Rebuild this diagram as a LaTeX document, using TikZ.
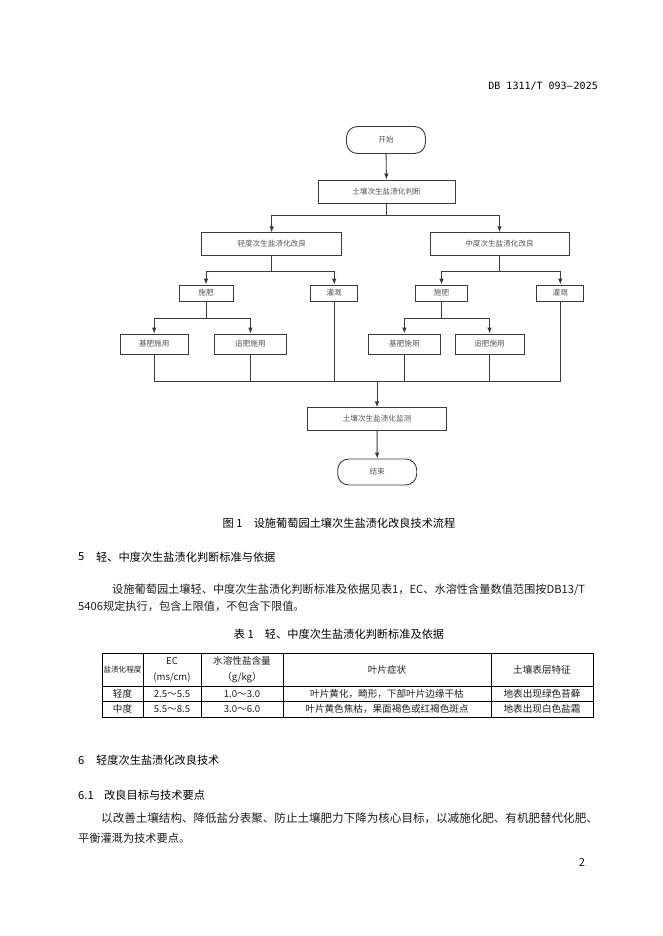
\documentclass[tikz,border=0pt]{standalone}
\usepackage{fontspec}
\setmainfont{Noto Sans CJK SC}
\newfontfamily\monofnt{DejaVu Sans Mono}
\usetikzlibrary{arrows.meta,calc}
\definecolor{boxline}{HTML}{3A3A3A}
\definecolor{boxtext}{HTML}{555555}
\definecolor{bodytext}{HTML}{1E1E1E}
\newcommand{\fbx}{\fontsize{7.6}{9}\selectfont}
\newcommand{\fbody}{\fontsize{11.2}{13}\selectfont}
\newcommand{\ftab}{\fontsize{9.6}{11}\selectfont}
\tikzset{
  fbox/.style={draw=boxline, line width=0.9pt, text=boxtext, font=\fbx, inner sep=0pt, rectangle},
  term/.style={fbox, rounded corners=11pt},
  arr/.style={draw=boxline, line width=0.9pt, -{Latex[length=6pt,width=4.6pt]}},
  ln/.style={draw=boxline, line width=0.9pt},
  body/.style={font=\fbody, text=bodytext, inner sep=0pt},
  head/.style={font=\fbody, text=black, inner sep=0pt},
  tab/.style={font=\ftab, text=bodytext, inner sep=0pt},
  tline/.style={draw=black, line width=0.8pt},
}
\begin{document}
\begin{tikzpicture}[x=1pt,y=-1pt]
\useasboundingbox[fill=white] (0,0) rectangle (662,936);

% header
\node[anchor=east, inner sep=0pt, font=\monofnt\fontsize{10}{12}\selectfont] (hdr) at (598,86) {DB 1311/T 093\textemdash\kern1pt 2025};

% flowchart
\node[term, minimum width=79pt, minimum height=27pt] (start) at (386,140) {开始};
\node[fbox, minimum width=137pt, minimum height=23pt] (judge) at (386.5,191.5) {土壤次生盐渍化判断};
\node[fbox, minimum width=140pt, minimum height=22.5pt] (light) at (271.7,244) {轻度次生盐渍化改良};
\node[fbox, minimum width=139pt, minimum height=22.5pt] (mod) at (499.5,244) {中度次生盐渍化改良};
\node[fbox, minimum width=54pt, minimum height=16pt] (fertL) at (206,293) {施肥};
\node[fbox, minimum width=47pt, minimum height=16pt] (irrL) at (334.2,293) {灌溉};
\node[fbox, minimum width=52pt, minimum height=16pt] (fertR) at (441.5,293) {施肥};
\node[fbox, minimum width=47pt, minimum height=16pt] (irrR) at (560.3,293) {灌溉};
\node[fbox, minimum width=68pt, minimum height=20pt] (baseL) at (154.2,344) {基肥施用};
\node[fbox, minimum width=72pt, minimum height=20pt] (topL) at (250.4,344) {追肥施用};
\node[fbox, minimum width=72pt, minimum height=20pt] (baseR) at (404.4,344) {基肥施用};
\node[fbox, minimum width=69pt, minimum height=20pt] (topR) at (489.5,344) {追肥施用};
\node[fbox, minimum width=139.4pt, minimum height=22.5pt] (monitor) at (377,419) {土壤次生盐渍化监测};
\node[term, minimum width=79pt, minimum height=26pt] (end) at (377.2,472) {结束};
\coordinate (m) at (377,381);

\draw[arr] (start) -- (judge);
\draw[arr] (judge.south) -- ++(0,11.5) -| (light.north);
\draw[arr] (judge.south) -- ++(0,11.5) -| (mod.north);
\draw[arr] (light.south) -- ++(0,15.5) -| (fertL.north);
\draw[arr] (light.south) -- ++(0,15.5) -| (irrL.north);
\draw[arr] (mod.south) -- ++(0,15.5) -| (fertR.north);
\draw[arr] (mod.south) -- ++(0,15.5) -| (irrR.north);
\draw[arr] (fertL.south) -- ++(0,17) -| (baseL.north);
\draw[arr] (fertL.south) -- ++(0,17) -| (topL.north);
\draw[arr] (fertR.south) -- ++(0,17) -| (baseR.north);
\draw[arr] (fertR.south) -- ++(0,17) -| (topR.north);
\draw[ln] (baseL.south) |- (m);
\draw[ln] (topL.south) -- (topL.south |- m);
\draw[ln] (irrL.south) |- (m);
\draw[ln] (irrR.south) |- (m);
\draw[ln] (baseR.south) -- (baseR.south |- m);
\draw[ln] (topR.south) -- (topR.south |- m);
\draw[arr] (m) -- (monitor.north);
\draw[arr] (monitor) -- (end);

% figure caption
\node[head] (cap1) at (339,523) {图 1\hspace{1em}设施葡萄园土壤次生盐渍化改良技术流程};

% section 5
\node[head, anchor=west] (s5n) at (78,557) {5};
\node[head, anchor=west] (s5t) at (96,557) {轻、中度次生盐渍化判断标准与依据};
\node[body, anchor=west] (p1) at (112,590) {设施葡萄园土壤轻、中度次生盐渍化判断标准及依据见表1，EC、水溶性含量数值范围按DB13/T};
\node[body, anchor=west] (p2) at (78,606) {5406规定执行，包含上限值，不包含下限值。};

% table caption
\node[head] (cap2) at (339,634) {表 1\hspace{1em}轻、中度次生盐渍化判断标准及依据};

% table
\draw[tline] (102,653) rectangle (593,717);
\draw[tline] (102,686) -- (593,686);
\draw[tline] (102,701.5) -- (593,701.5);
\foreach \cx in {143,201,283,491} \draw[tline] (\cx,653) -- (\cx,717);
\node[tab, font=\fontsize{7.6}{9}\selectfont] (h1) at (122.5,669.5) {盐渍化程度};
\node[tab] (h2a) at (172,661) {EC};
\node[tab] (h2b) at (172,677.5) {(ms/cm)};
\node[tab] (h3a) at (242,661) {水溶性盐含量};
\node[tab] (h3b) at (242,677.5) {（g/kg）};
\node[tab] (h4) at (387,669.5) {叶片症状};
\node[tab] (h5) at (542,669.5) {土壤表层特征};
\node[tab] (r1a) at (122.5,693.7) {轻度};
\node[tab] (r1b) at (172,693.7) {2.5～5.5};
\node[tab] (r1c) at (242,693.7) {1.0～3.0};
\node[tab] (r1d) at (387,693.7) {叶片黄化，畸形，下部叶片边缘干枯};
\node[tab] (r1e) at (542,693.7) {地表出现绿色苔藓};
\node[tab] (r2a) at (122.5,709.3) {中度};
\node[tab] (r2b) at (172,709.3) {5.5～8.5};
\node[tab] (r2c) at (242,709.3) {3.0～6.0};
\node[tab] (r2d) at (387,709.3) {叶片黄色焦枯，果面褐色或红褐色斑点};
\node[tab] (r2e) at (542,709.3) {地表出现白色盐霜};

% section 6
\node[head, anchor=west] (s6n) at (78,760) {6};
\node[head, anchor=west] (s6t) at (96,760) {轻度次生盐渍化改良技术};
\node[head, anchor=west] (s61n) at (78,795) {6.1};
\node[head, anchor=west] (s61t) at (104,795) {改良目标与技术要点};
\node[body, anchor=west, font=\fontsize{11.55}{13}\selectfont] (p3) at (101,818) {以改善土壤结构、降低盐分表聚、防止土壤肥力下降为核心目标，以减施化肥、有机肥替代化肥、};
\node[body, anchor=west] (p4) at (78,838) {平衡灌溉为技术要点。};

% page number
\node[body] (pg) at (582,862) {2};
\end{tikzpicture}
\end{document}
